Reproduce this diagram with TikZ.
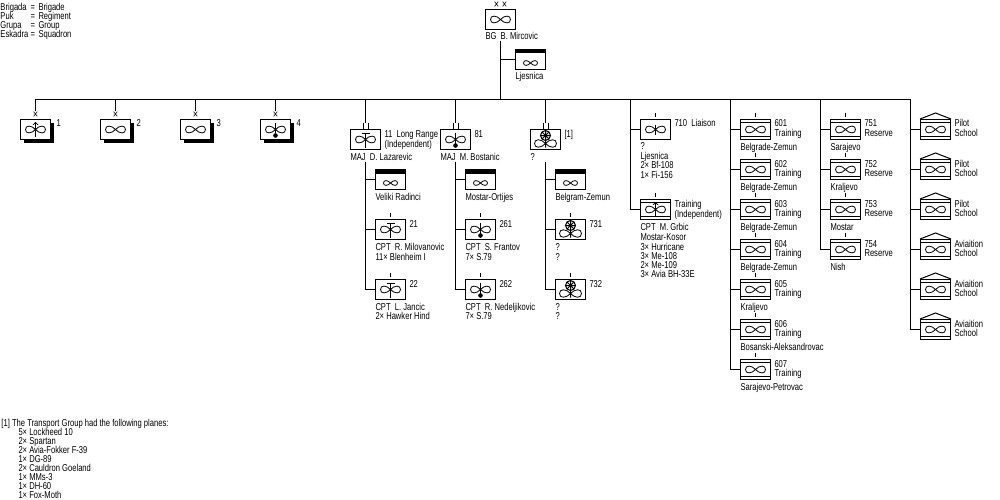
\documentclass[tikz,border=0pt]{standalone}
\usepackage{fontspec}
\setmainfont[FakeStretch=.76]{Liberation Sans}
\usetikzlibrary{shadows}
\tikzset{
	unitbox/.style={draw,fill=white,minimum width=30pt,minimum height=20pt,inner sep=0pt},
	shadowbox/.style={unitbox,drop shadow={shadow xshift=3pt,shadow yshift=-3pt,fill=black,opacity=1}},
	airbox/.style={unitbox,path picture={\fill[black] (path picture bounding box.north west) rectangle ([yshift=-4pt]path picture bounding box.north east);}},
	trainbox/.style={unitbox,path picture={
		\draw ([yshift=-3pt]path picture bounding box.north west)--([yshift=-3pt]path picture bounding box.north east);
		\draw ([yshift=3pt]path picture bounding box.south west)--([yshift=3pt]path picture bounding box.south east);}},
	markx/.style={inner sep=0pt,minimum height=8pt,font=\fontsize{12}{12}\selectfont},
	markii/.style={inner sep=0pt,minimum width=4pt,minimum height=5pt},
	lab/.style={anchor=base west,inner sep=0pt,yshift=-3.5pt,xshift=-.5pt},
	loopsym/.pic={
		\draw[line width=.8pt] (0,0) .. controls (4,-4.5) and (10,-4.5) .. (10,0) .. controls (10,4.5) and (4,4.5) .. (0,0)
		.. controls (-4,-4.5) and (-10,-4.5) .. (-10,0) .. controls (-10,4.5) and (-4,4.5) .. (0,0);},
	arrowsym/.pic={\pic {loopsym}; \draw[->] (0,7.5)--(0,-7.5);},
	barsym/.pic={\pic {loopsym}; \draw (0,-5)--(0,5);},
	Tsym/.pic={\pic {loopsym}; \draw (0,8)--(0,-6.5) (-4,-6.5)--(4,-6.5);},
	ballsym/.pic={\pic {loopsym}; \draw (0,-7)--(0,6); \fill (0,6) circle (2.3);},
	wheelsym/.pic={\pic[yshift=-4pt,scale=1.1] {loopsym}; \draw (0,-9)--(0,8) (0,-4) circle (5) (-5,-4)--(5,-4) (-3.5,-7.5)--(3.5,-.5) (-3.5,-.5)--(3.5,-7.5); \fill (0,-4) circle (1.5);},
}
\begin{document}
\begin{tikzpicture}[x=1pt,y=-1pt,shift={(.5,.5)},font=\fontsize{10}{10}\selectfont,line width=1pt,>=to]
	\useasboundingbox[fill=white] (-.5,-.5) rectangle (999.5,499.5);
	% top of the tree
	\node[unitbox] (hq) at (500,19) {};
	\pic at (hq) {loopsym};
	\node[markx] (hqx) at (500,5) {× ×};
	\coordinate (hqs) at (500,41);
	\coordinate (hqt) at (500,99);
	\draw (hqs)--(hqt);
	\node[airbox] (hqa) at (530,59) {};
	\pic[scale=.7,yshift=-5pt] at (hqa) {loopsym};
	\draw (hqa.west)--(hqa.west -| hqt);
	\coordinate (tl) at (35,99);
	\coordinate (tr) at (910,99);
	\draw (tl)--(tr);
	% wings with shadow
	\foreach \x/\s [count=\i] in {35/arrowsym,115/loopsym,195/loopsym,275/ballsym}{
		\coordinate (wt\i) at (\x,99);
		\node[shadowbox] (w\i) at (\x,129) {};
		\pic at (w\i) {\s};
		\node[markx] (wx\i) at (\x,115) {×};
		\draw (wt\i)--(wx\i);
		\node[lab] (wl\i) at (\x+21,123) {\i};
	}
	% groups with their airfield and two squadrons
	\foreach \x/\s [count=\i] in {365/Tsym,455/ballsym,545/wheelsym}{
		\coordinate (gt\i) at (\x,99);
		\coordinate (gb\i) at (\x,161);
		\node[unitbox] (g\i) at (\x,139) {};
		\pic at (g\i) {\s};
		\node[markii] (gm\i) at (\x,125) {};
		\draw (gt\i)--(gt\i |- gm\i.north);
		\draw (gm\i.north west)--(gm\i.south west) (gm\i.north east)--(gm\i.south east);
		\node[airbox] (ga\i) at (\x+25,179) {};
		\pic[scale=.7,yshift=-5pt] at (ga\i) {loopsym};
		\draw (gb\i) |- (ga\i.west);
		\foreach \y [count=\k] in {229,289}{
			\node[unitbox] (s\i\k) at (\x+25,\y) {};
			\pic at (s\i\k) {\s};
			\draw (gb\i) |- (s\i\k.west);
			\draw ([yshift=2pt]s\i\k.north)--([yshift=6pt]s\i\k.north);
		}
	}
	% independent squadrons
	\coordinate (ct) at (630,99);
	\node[unitbox] (li) at (655,129) {};
	\pic at (li) {barsym};
	\node[trainbox] (ti) at (655,209) {};
	\pic at (ti) {arrowsym};
	\draw (ct) |- (li.west);
	\draw (ct) |- (ti.west);
	\draw ([yshift=2pt]li.north)--([yshift=6pt]li.north);
	\draw ([yshift=2pt]ti.north)--([yshift=6pt]ti.north);
	% training squadrons
	\coordinate (ctr) at (730,99);
	\foreach \n/\p [count=\k from 0, evaluate=\k as \yy using 129+40*\k] in {601/Belgrade-Zemun,602/Belgrade-Zemun,603/Belgrade-Zemun,604/Belgrade-Zemun,605/Kraljevo,606/Bosanski-Aleksandrovac,607/Sarajevo-Petrovac}{
		\node[trainbox] (tr\n) at (755,\yy) {};
		\pic at (tr\n) {loopsym};
		\draw (ctr) |- (tr\n.west);
		\draw ([yshift=2pt]tr\n.north)--([yshift=6pt]tr\n.north);
		\node[lab] (trn\n) at (774,\yy-6) {\n};
		\node[lab] (trl\n) at (774,\yy+3) {Training};
		\node[lab] (trp\n) at (740,\yy+17) {\p};
	}
	% reserve squadrons
	\coordinate (cre) at (820,99);
	\foreach \n/\p [count=\k from 0, evaluate=\k as \yy using 129+40*\k] in {751/Sarajevo,752/Kraljevo,753/Mostar,754/Nish}{
		\node[trainbox] (re\n) at (845,\yy) {};
		\pic at (re\n) {loopsym};
		\draw (cre) |- (re\n.west);
		\draw ([yshift=2pt]re\n.north)--([yshift=6pt]re\n.north);
		\node[lab] (ren\n) at (864,\yy-6) {\n};
		\node[lab] (rel\n) at (864,\yy+3) {Reserve};
		\node[lab] (rep\n) at (830,\yy+17) {\p};
	}
	% schools
	\coordinate (csc) at (910,99);
	\foreach \p [count=\k from 0, evaluate=\k as \yy using 129+40*\k] in {Pilot,Pilot,Pilot,Aviaition,Aviaition,Aviaition}{
		\node[trainbox] (sc\k) at (935,\yy) {};
		\pic at (sc\k) {loopsym};
		\draw (csc) |- (sc\k.west);
		\draw (sc\k.north west)--([yshift=6pt]sc\k.north)--(sc\k.north east);
		\node[lab] (scn\k) at (954,\yy-6) {\p};
		\node[lab] (scl\k) at (954,\yy+3) {School};
	}
	% free texts
	\foreach \x/\y/\t [count=\i] in {
		0/7/Brigada,30/7/=,38/7/Brigade,0/16/Puk,30/16/=,38/16/Regiment,
		0/25/Grupa,30/25/=,38/25/Group,0/34/Eskadra,30/34/=,38/34/Squadron,
		485/36/BG~~B. Mircovic,515/76/Ljesnica,
		384/133/11~~Long Range,384/143/(Independent),350/156/MAJ~~D. Lazarevic,375/196/Veliki Radinci,
		409/223/21,375/246/CPT~~R. Milovanovic,375/256/11× Blenheim I,
		409/283/22,375/306/CPT~~L. Jancic,375/315/2× Hawker Hind,
		474/133/81,440/156/MAJ~~M. Bostanic,465/196/Mostar-Ortijes,
		499/223/261,465/246/CPT~~S. Frantov,465/256/7× S.79,
		499/283/262,465/306/CPT~~R. Nedeljikovic,465/315/7× S.79,
		564/133/[1],530/156/?,555/196/Belgram-Zemun,
		589/223/731,555/246/?,555/256/?,
		589/283/732,555/306/?,555/315/?,
		674/123/710~~Liaison,640/145/?,640/155/Ljesnica,640/164/2× Bf-108,640/174/1× Fi-156,
		674/203/Training,674/213/(Independent),640/226/CPT~~M. Grbic,640/236/Mostar-Kosor,
		640/246/3× Hurricane,640/255/3× Me-108,640/264/2× Me-109,640/273/3× Avia BH-33E,
		1/422/[1] The Transport Group had the following planes:,
		18/431/5× Lockheed 10,18/440/2× Spartan,18/449/2× Avia-Fokker F-39,18/458/1× DG-89,
		18/467/2× Cauldron Goeland,18/476/1× MMs-3,18/485/1× DH-60,18/494/1× Fox-Moth}{
		\node[lab] (txt\i) at (\x,\y) {\t};
	}
\end{tikzpicture}
\end{document}
